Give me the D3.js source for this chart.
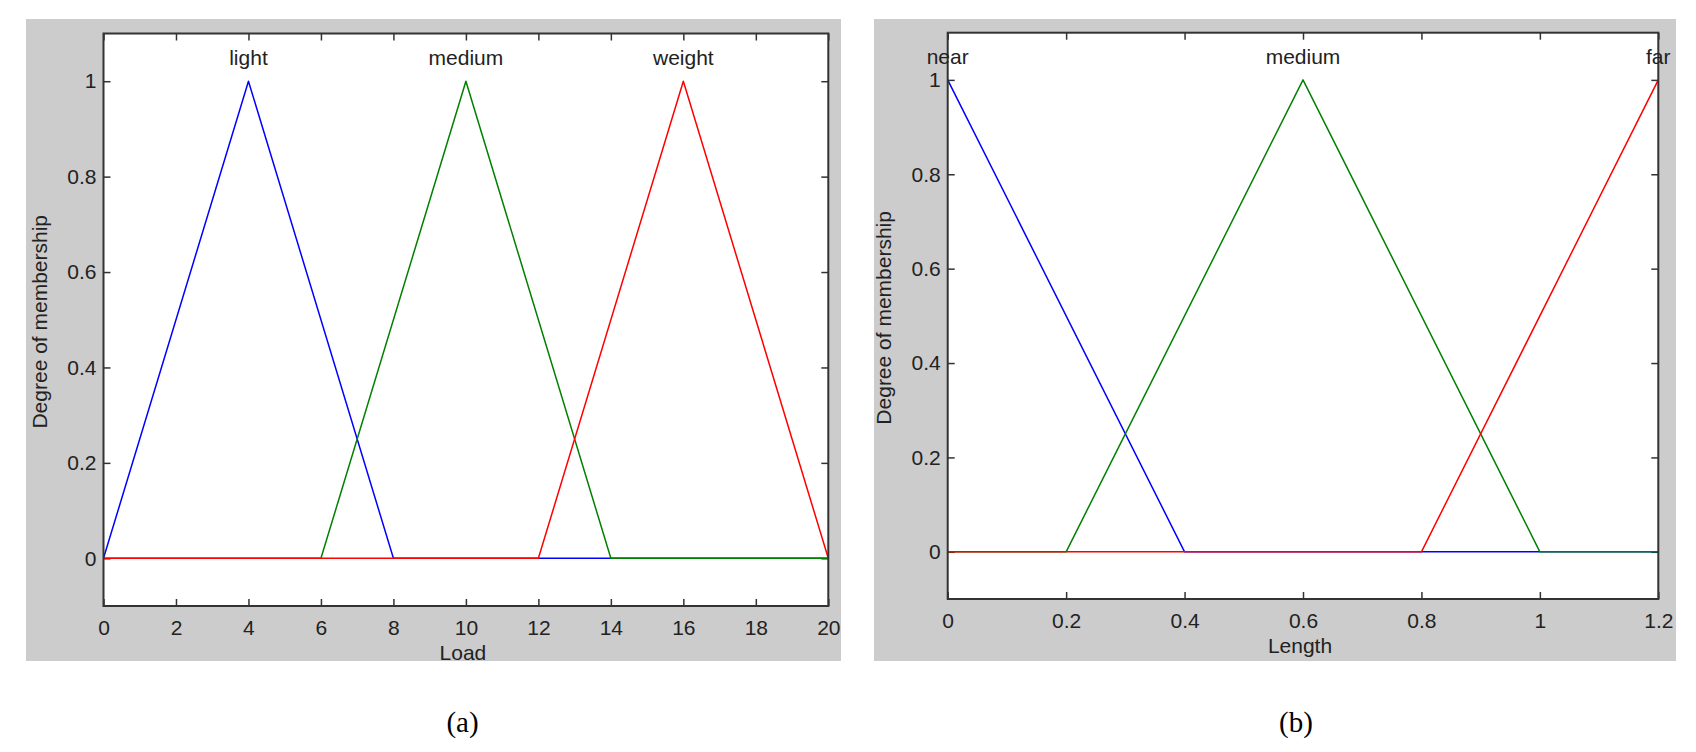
<!DOCTYPE html>
<html>
<head>
<meta charset="utf-8">
<script src="https://cdn.jsdelivr.net/npm/d3@7"></script>
<style>
  html, body { margin: 0; padding: 0; background: #ffffff; }
  svg { display: block; }
</style>
</head>
<body>
<svg id="chart" width="1696" height="752"></svg>
<script>
// ---------------- DATA ----------------
// Panel (a): Load
const loadSeriesNames = ["light", "medium", "weight"];
const loadLightX  = [0, 4, 8, 20];
const loadLightY  = [0, 1, 0, 0];
const loadMediumX = [0, 6, 10, 14, 20];
const loadMediumY = [0, 0, 1, 0, 0];
const loadWeightX = [0, 12, 16, 20];
const loadWeightY = [0, 0, 1, 0];
const loadXTicks = [0, 2, 4, 6, 8, 10, 12, 14, 16, 18, 20];
const loadXTickLabels = ["0", "2", "4", "6", "8", "10", "12", "14", "16", "18", "20"];

// Panel (b): Length
const lengthSeriesNames = ["near", "medium", "far"];
const lengthNearX   = [0, 0.4, 1.2];
const lengthNearY   = [1, 0, 0];
const lengthMediumX = [0, 0.2, 0.6, 1.0, 1.2];
const lengthMediumY = [0, 0, 1, 0, 0];
const lengthFarX    = [0, 0.8, 1.2];
const lengthFarY    = [0, 0, 1];
const lengthXTicks = [0, 0.2, 0.4, 0.6, 0.8, 1.0, 1.2];
const lengthXTickLabels = ["0", "0.2", "0.4", "0.6", "0.8", "1", "1.2"];

// Shared
const yTicks = [0, 0.2, 0.4, 0.6, 0.8, 1.0];
const yTickLabels = ["0", "0.2", "0.4", "0.6", "0.8", "1"];
const seriesColors = ["#0000ff", "#008000", "#ff0000"];
const yLabelText = "Degree of membership";

// ---------------- DRAW ----------------
const svg = d3.select("#chart");
const FONT = "'Liberation Sans', Arial, Helvetica, sans-serif";
const TXT = "#222222";

function zip(xs, ys) { return xs.map((x, i) => ({ x: x, y: ys[i] })); }

function drawPanel(cfg) {
  const g = svg.append("g");
  // gray figure background
  g.append("rect")
    .attr("x", cfg.bg.x).attr("y", cfg.bg.y)
    .attr("width", cfg.bg.w).attr("height", cfg.bg.h)
    .attr("fill", "#cccccc");

  const x = d3.scaleLinear().domain(cfg.xDomain).range([cfg.plot.left, cfg.plot.right]);
  const y = d3.scaleLinear().domain([-0.1, 1.1]).range([cfg.plot.bottom, cfg.plot.top]);

  // white plot area
  g.append("rect")
    .attr("x", cfg.plot.left).attr("y", cfg.plot.top)
    .attr("width", cfg.plot.right - cfg.plot.left)
    .attr("height", cfg.plot.bottom - cfg.plot.top)
    .attr("fill", "#ffffff");

  const tickLen = 7;
  // inward ticks using d3 axes
  const axB = d3.axisBottom(x).tickValues(cfg.xTicks).tickSize(-tickLen).tickFormat((d, i) => cfg.xTickLabels[i]).tickPadding(14);
  const axT = d3.axisTop(x).tickValues(cfg.xTicks).tickSize(-tickLen).tickFormat("");
  const axL = d3.axisLeft(y).tickValues(yTicks).tickSize(-tickLen).tickFormat((d, i) => yTickLabels[i]).tickPadding(7);
  const axR = d3.axisRight(y).tickValues(yTicks).tickSize(-tickLen).tickFormat("");

  function styleAxis(sel) {
    sel.select(".domain").remove();
    sel.selectAll(".tick line").attr("stroke", "#333333").attr("stroke-width", 1.5);
    sel.selectAll(".tick text").attr("fill", TXT).style("font-family", FONT).style("font-size", "21px");
  }
  g.append("g").attr("transform", `translate(0,${cfg.plot.bottom})`).call(axB).call(styleAxis);
  g.append("g").attr("transform", `translate(0,${cfg.plot.top})`).call(axT).call(styleAxis);
  g.append("g").attr("transform", `translate(${cfg.plot.left},0)`).call(axL).call(styleAxis);
  g.append("g").attr("transform", `translate(${cfg.plot.right},0)`).call(axR).call(styleAxis);

  // membership lines
  const line = d3.line().x(d => x(d.x)).y(d => y(d.y));
  cfg.series.forEach((s, i) => {
    g.append("path")
      .datum(zip(s.xs, s.ys))
      .attr("d", line)
      .attr("fill", "none")
      .attr("stroke", seriesColors[i])
      .attr("stroke-width", 1.5)
      .attr("stroke-linejoin", "round");
  });

  // frame
  g.append("rect")
    .attr("x", cfg.plot.left).attr("y", cfg.plot.top)
    .attr("width", cfg.plot.right - cfg.plot.left)
    .attr("height", cfg.plot.bottom - cfg.plot.top)
    .attr("fill", "none").attr("stroke", "#333333").attr("stroke-width", 2);

  // series names at peaks
  cfg.series.forEach((s, i) => {
    const peakIdx = s.ys.indexOf(d3.max(s.ys));
    g.append("text")
      .attr("x", x(s.xs[peakIdx]))
      .attr("y", y(1) - 16)
      .attr("text-anchor", "middle")
      .attr("fill", TXT)
      .style("font-family", FONT).style("font-size", "21px")
      .text(s.name);
  });

  // x label
  const cx = (cfg.plot.left + cfg.plot.right) / 2;
  g.append("text")
    .attr("x", cx - 3).attr("y", cfg.plot.bottom + 54)
    .attr("text-anchor", "middle").attr("fill", TXT)
    .style("font-family", FONT).style("font-size", "21px")
    .text(cfg.xLabel);

  // y label
  const cy = (cfg.plot.top + cfg.plot.bottom) / 2 + 2;
  g.append("text")
    .attr("transform", `translate(${cfg.plot.left - 56.5},${cy}) rotate(-90)`)
    .attr("text-anchor", "middle").attr("fill", TXT)
    .style("font-family", FONT).style("font-size", "21px")
    .text(yLabelText);

  // caption
  g.append("text")
    .attr("x", cfg.caption.x).attr("y", cfg.caption.y)
    .attr("text-anchor", "middle").attr("fill", "#000000")
    .style("font-family", "'Liberation Serif', 'Times New Roman', serif").style("font-size", "29px")
    .text(cfg.caption.text);
}

drawPanel({
  bg: { x: 26, y: 19, w: 815, h: 642 },
  plot: { left: 103.5, right: 828.3, top: 33.5, bottom: 606 },
  xDomain: [0, 20],
  xTicks: loadXTicks, xTickLabels: loadXTickLabels,
  xLabel: "Load",
  series: [
    { name: loadSeriesNames[0], xs: loadLightX, ys: loadLightY },
    { name: loadSeriesNames[1], xs: loadMediumX, ys: loadMediumY },
    { name: loadSeriesNames[2], xs: loadWeightX, ys: loadWeightY }
  ],
  caption: { x: 462.5, y: 732, text: "(a)" }
});

drawPanel({
  bg: { x: 874, y: 19, w: 802, h: 642 },
  plot: { left: 947.7, right: 1658.3, top: 32.7, bottom: 599 },
  xDomain: [0, 1.2],
  xTicks: lengthXTicks, xTickLabels: lengthXTickLabels,
  xLabel: "Length",
  series: [
    { name: lengthSeriesNames[0], xs: lengthNearX, ys: lengthNearY },
    { name: lengthSeriesNames[1], xs: lengthMediumX, ys: lengthMediumY },
    { name: lengthSeriesNames[2], xs: lengthFarX, ys: lengthFarY }
  ],
  caption: { x: 1296, y: 732, text: "(b)" }
});
</script>
</body>
</html>
